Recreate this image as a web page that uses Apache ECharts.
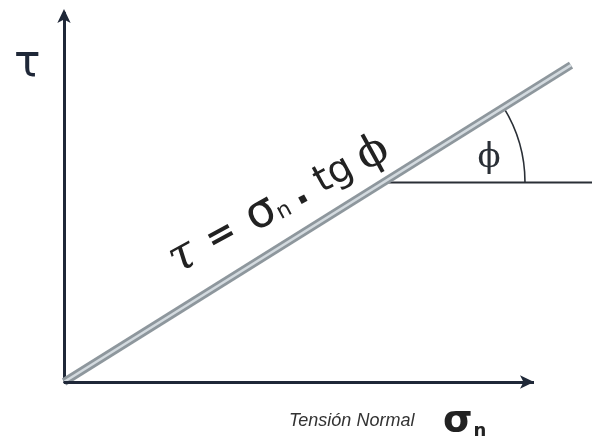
<!DOCTYPE html>
<html>
<head>
<meta charset="utf-8">
<script src="https://cdn.jsdelivr.net/npm/echarts@6/dist/echarts.min.js"></script>
<style>
  html, body { margin: 0; padding: 0; background: #fff; }
  #chart { width: 592px; height: 445px; }
</style>
</head>
<body>
<div id="chart"></div>
<script>
// envelope  tau = sigma_n * tg(phi), in plot units (1 unit ~ 1 px)
var envelopeX = [0, 507];
var envelopeY = [0, 316];
// horizontal reference for the friction angle
var refX = [319, 528];
var refY = [199, 199];
var arcRadius = 142;
var axisEndX = 470;   // where the drawn sigma_n axis ends
var axisMaxX = 528;
var axisMaxY = 368;

var ink = '#1f2838';

var chart = echarts.init(document.getElementById('chart'));

var envelopeData = envelopeX.map(function (x, i) { return [x, envelopeY[i]]; });
var refData = refX.map(function (x, i) { return [x, refY[i]]; });
var phi = Math.atan2(envelopeY[1] - envelopeY[0], envelopeX[1] - envelopeX[0]);

chart.setOption({
  backgroundColor: '#ffffff',
  animation: false,
  grid: { left: 64, right: 0, top: 13, bottom: 63 },
  xAxis: {
    type: 'value', min: 0, max: axisMaxX,
    axisLine: { show: false },
    axisTick: { show: false }, axisLabel: { show: false }, splitLine: { show: false }
  },
  yAxis: {
    type: 'value', min: 0, max: axisMaxY,
    axisLine: { show: true, symbol: ['none', 'arrow'], symbolSize: [10, 14], symbolOffset: [0, 4],
      lineStyle: { color: ink, width: 3 } },
    axisTick: { show: false }, axisLabel: { show: false }, splitLine: { show: false }
  },
  series: [
    {
      type: 'line', data: refData, symbol: 'none', z: 2,
      lineStyle: { color: '#2a2f36', width: 2 },
      markLine: {
        silent: true, symbol: ['none', 'arrow'], symbolSize: [10, 14],
        label: { show: false },
        lineStyle: { color: ink, width: 3, type: 'solid' },
        data: [[{ coord: [0, 0] }, { coord: [axisEndX, 0] }]]
      }
    },
    {
      type: 'line', data: envelopeData, symbol: 'none', z: 3,
      lineStyle: { color: '#8e979d', width: 8 }
    },
    {
      type: 'line', data: envelopeData, symbol: 'none', z: 4,
      lineStyle: { color: '#d3dadf', width: 2.5 }
    },
    {
      // angle arc, drawn around the intersection point
      type: 'custom', clip: false, z: 2,
      data: [[refX[0], refY[0]]],
      renderItem: function (params, api) {
        var c = api.coord([api.value(0), api.value(1)]);
        var r = api.size([arcRadius, 0])[0];
        return {
          type: 'arc',
          shape: { cx: c[0], cy: c[1], r: r, startAngle: -phi, endAngle: 0, clockwise: true },
          style: { stroke: '#2a2f36', lineWidth: 1.6, fill: null }
        };
      }
    }
  ],
  graphic: [
    { type: 'text', left: 14, top: 43,
      style: { text: 'τ', font: '44px "DejaVu Sans"', fill: ink } },
    { type: 'text', x: 489, y: 158,
      style: { text: 'ϕ', font: '34px "DejaVu Serif"', fill: '#2a2f36', align: 'center', verticalAlign: 'middle' } },
    { type: 'text', x: 279, y: 205, rotation: 0.5,
      style: {
        text: '{t|τ}{e|=}{s|σ}{n|n}{d|.}{g|tg}{p|ϕ}',
        align: 'center', verticalAlign: 'middle', fill: '#222',
        rich: {
          t: { fontSize: 46, fontStyle: 'italic', fontFamily: 'DejaVu Serif', fill: '#222', padding: [0, 16, 0, 0] },
          e: { fontSize: 36, fontWeight: 'bold', fontFamily: 'DejaVu Sans', fill: '#222', padding: [0, 16, 0, 0] },
          s: { fontSize: 46, fontFamily: 'DejaVu Sans', fill: '#222' },
          n: { fontSize: 22, fontFamily: 'DejaVu Sans', fill: '#222', padding: [16, 0, 0, 0] },
          d: { fontSize: 38, fontWeight: 'bold', fontFamily: 'DejaVu Sans', fill: '#222', padding: [0, 12, 0, 8] },
          g: { fontSize: 38, fontFamily: 'DejaVu Sans', fill: '#222', padding: [0, 10, 0, 0] },
          p: { fontSize: 44, fontFamily: 'DejaVu Serif', fill: '#222' }
        }
      } },
    { type: 'text', x: 289, y: 421,
      style: { text: 'Tensión Normal', font: 'italic 18px "Liberation Sans"', fill: '#333', verticalAlign: 'middle' } },
    { type: 'text', x: 443, y: 421,
      style: { text: '{s|σ}{n|n}', verticalAlign: 'middle',
        rich: {
          s: { fontSize: 38, fontWeight: 'bold', fontFamily: 'DejaVu Sans', fill: '#222' },
          n: { fontSize: 18, fontWeight: 'bold', fontFamily: 'DejaVu Sans', fill: '#222', padding: [20, 0, 0, 1] }
        } } }
  ]
});
</script>
</body>
</html>
